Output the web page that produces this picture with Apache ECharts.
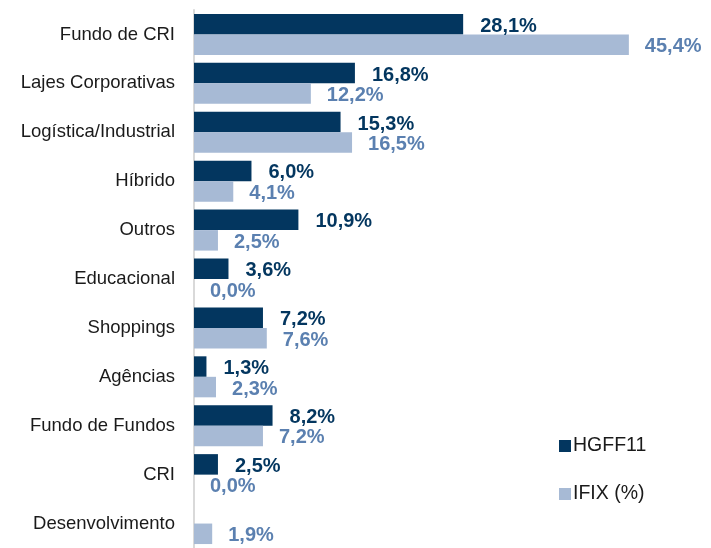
<!DOCTYPE html>
<html>
<head>
<meta charset="utf-8">
<script src="https://cdn.jsdelivr.net/npm/echarts@6/dist/echarts.min.js"></script>
<style>
  html, body { margin: 0; padding: 0; background: #fff; }
  #chart { width: 711px; height: 548px; }
</style>
</head>
<body>
<div id="chart"></div>
<script>
// categorias, de cima para baixo
var categorias = ['Fundo de CRI', 'Lajes Corporativas', 'Logística/Industrial', 'Híbrido', 'Outros',
    'Educacional', 'Shoppings', 'Agências', 'Fundo de Fundos', 'CRI', 'Desenvolvimento'];
var hgff11 = [28.1, 16.8, 15.3, 6.0, 10.9, 3.6, 7.2, 1.3, 8.2, 2.5, null];
var ifix = [45.4, 12.2, 16.5, 4.1, 2.5, 0.0, 7.6, 2.3, 7.2, 0.0, 1.9];

var corEscura = '#03365f';
var corClara = '#a7bad5';
var corLabelClara = '#5b80b0';

function fmt(p) {
    if (p.value === null || p.value === undefined) return '';
    return p.value.toFixed(1).replace('.', ',') + '%';
}

var chart = echarts.init(document.getElementById('chart'));
chart.setOption({
    animation: false,
    grid: { left: 194, top: 10, width: 500, height: 543 },
    legend: {
        orient: 'vertical',
        left: 554, top: 431,
        itemWidth: 12, itemHeight: 12,
        itemGap: 28,
        icon: 'rect',
        textStyle: { fontFamily: 'Liberation Sans', fontSize: 19.5, color: '#1a1a1a', padding: [0, 0, 0, -3] },
        data: ['HGFF11', 'IFIX (%)']
    },
    xAxis: {
        type: 'value', min: 0, max: 52.2,
        show: false
    },
    yAxis: {
        type: 'category',
        inverse: true,
        data: categorias,
        axisLine: { show: true, lineStyle: { color: '#d9d9d9', width: 2 } },
        axisTick: { show: false },
        axisLabel: { margin: 19, fontFamily: 'Liberation Sans', fontSize: 18.5, color: '#1a1a1a' }
    },
    series: [{
        name: 'HGFF11',
        type: 'bar',
        data: hgff11,
        barWidth: 20.5,
        barGap: '0%',
        itemStyle: { color: corEscura },
        label: {
            show: true, position: 'right', distance: 17, offset: [0, 2],
            formatter: fmt,
            fontFamily: 'Liberation Sans', fontWeight: 'bold', fontSize: 20, color: corEscura
        }
    }, {
        name: 'IFIX (%)',
        type: 'bar',
        data: ifix,
        barWidth: 20.5,
        itemStyle: { color: corClara },
        label: {
            show: true, position: 'right', distance: 16, offset: [0, 2],
            formatter: fmt,
            fontFamily: 'Liberation Sans', fontWeight: 'bold', fontSize: 20, color: corLabelClara
        }
    }]
});
</script>
</body>
</html>
